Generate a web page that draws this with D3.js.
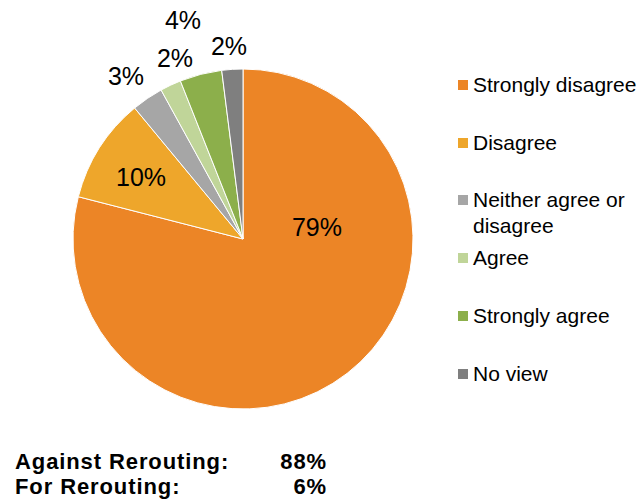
<!DOCTYPE html>
<meta charset="utf-8">
<style>
body { margin: 0; background: #fff; font-family: Arial, "Liberation Sans", sans-serif; }
svg text { fill: #000; }
</style>
<body>
<script src="https://cdn.jsdelivr.net/npm/d3@7"></script>
<script>
// data
var categories = ["Strongly disagree", "Disagree", "Neither agree or disagree", "Agree", "Strongly agree", "No view"];
var values = [79, 10, 3, 2, 4, 2];
var colors = ["#EC8526", "#EEA62B", "#A6A6A6", "#C0D599", "#8CAF4B", "#7F7F7F"];
var summaryLabels = ["Against Rerouting:", "For Rerouting:"];
var summaryValues = ["88%", "6%"];

// label placement relative to the pie centre
var labelOffsets = [[74, -12], [-102, -62], [-117, -163], [-68, -181], [-60, -219], [-14, -193]];

var width = 641, height = 504;
var cx = 243, cy = 239, radius = 170;

var svg = d3.select("body").append("svg")
    .attr("width", width)
    .attr("height", height);

var pie = d3.pie().sort(null).value(function(d) { return d; });
var arc = d3.arc().innerRadius(0).outerRadius(radius);

var g = svg.append("g").attr("transform", "translate(" + cx + "," + cy + ")");

g.selectAll("path")
    .data(pie(values))
    .enter().append("path")
      .attr("d", arc)
      .attr("fill", function(d, i) { return colors[i]; })
      .attr("stroke", "#fff")
      .attr("stroke-width", 1);

g.selectAll("text.pct")
    .data(values)
    .enter().append("text")
      .attr("class", "pct")
      .attr("x", function(d, i) { return labelOffsets[i][0]; })
      .attr("y", function(d, i) { return labelOffsets[i][1]; })
      .attr("dy", "0.35em")
      .attr("text-anchor", "middle")
      .style("font-size", "25px")
      .text(function(d) { return d + "%"; });

// legend
var legendY = [85, 143, 200, 258, 316, 374];
var legend = svg.append("g").selectAll("g")
    .data(categories)
    .enter().append("g")
      .attr("transform", function(d, i) { return "translate(458," + legendY[i] + ")"; });

legend.append("rect")
    .attr("x", 0)
    .attr("y", -5)
    .attr("width", 10)
    .attr("height", 10)
    .attr("fill", function(d, i) { return colors[i]; });

legend.append("text")
    .attr("x", 15)
    .attr("y", 0)
    .style("font-size", "21px")
    .each(function(d) {
      var t = d3.select(this);
      var lines = d === "Neither agree or disagree" ? ["Neither agree or", "disagree"] : [d];
      lines.forEach(function(l, j) {
        t.append("tspan").attr("x", 15).attr("dy", j === 0 ? "0.35em" : "1.2em").text(l);
      });
    });

// summary lines
var summary = svg.append("g")
    .style("font-size", "22px")
    .style("font-weight", "bold")
    .style("letter-spacing", "0.9px");

summary.selectAll("text.lab")
    .data(summaryLabels)
    .enter().append("text")
      .attr("class", "lab")
      .attr("x", 15)
      .attr("y", function(d, i) { return 469 + i * 25; })
      .text(function(d) { return d; });

summary.selectAll("text.val")
    .data(summaryValues)
    .enter().append("text")
      .attr("class", "val")
      .attr("x", 327)
      .attr("y", function(d, i) { return 469 + i * 25; })
      .attr("text-anchor", "end")
      .text(function(d) { return d; });
</script>
</body>
